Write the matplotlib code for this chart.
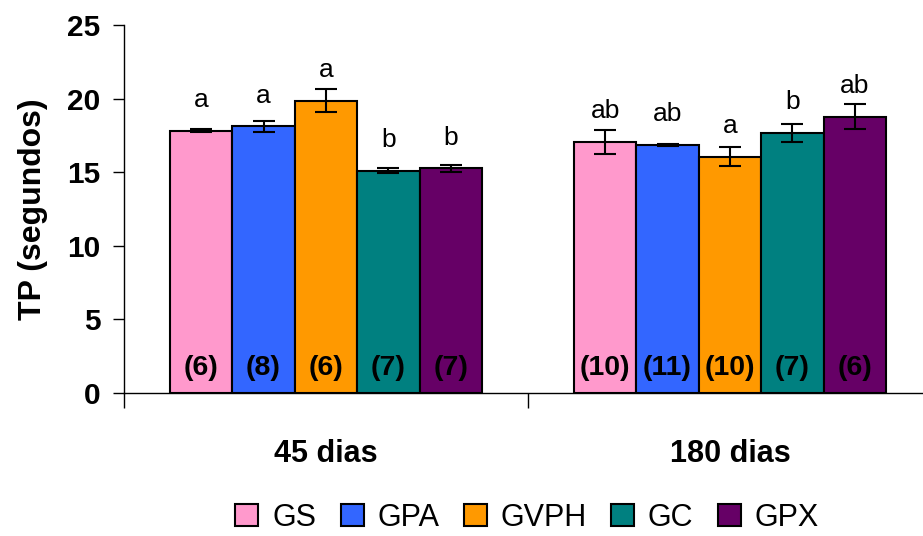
import matplotlib.pyplot as plt
import numpy as np

plt.rcParams['font.family'] = ['Liberation Sans', 'DejaVu Sans']

periods = ["45 dias", "180 dias"]
groups = ["GS", "GPA", "GVPH", "GC", "GPX"]
colors = ["#FF99CC", "#3366FF", "#FF9900", "#008080", "#660066"]

# mean TP per group, rows = groups, cols = periods
means = [[17.8, 17.05],
         [18.1, 16.85],
         [19.85, 16.05],
         [15.1, 17.65],
         [15.25, 18.75]]
errors = [[0.1, 0.8],
          [0.4, 0.07],
          [0.8, 0.63],
          [0.17, 0.63],
          [0.22, 0.85]]
letters = [["a", "ab"],
           ["a", "ab"],
           ["a", "a"],
           ["b", "b"],
           ["b", "ab"]]
counts = [["(6)", "(10)"],
          ["(8)", "(11)"],
          ["(6)", "(10)"],
          ["(7)", "(7)"],
          ["(7)", "(6)"]]

fig = plt.figure(figsize=(9.23, 5.36), dpi=100)
ax = fig.add_axes([0.1343, 0.2674, 0.8754, 0.686])

x = np.arange(len(periods))
w = 0.1545
for i, g in enumerate(groups):
    xs = x + (i - 2) * w
    ax.bar(xs, means[i], width=w, color=colors[i], edgecolor="black",
           linewidth=1.5, label=g, zorder=2)
    ax.errorbar(xs, means[i], yerr=errors[i], fmt="none", ecolor="black",
                elinewidth=1.5, capsize=8, capthick=1.5, zorder=3)
    for j in range(len(periods)):
        ax.annotate(letters[i][j], (xs[j], means[i][j]), xytext=(0, 17),
                    textcoords="offset points", ha="center", va="baseline",
                    fontsize=19)
        ax.text(xs[j], 1.7, counts[i][j], ha="center", va="center",
                fontsize=20.5, fontweight="bold", zorder=4)

ax.set_ylim(0, 25)
ax.set_xlim(-0.5, 1.5)
ax.set_yticks(range(0, 26, 5))
ax.set_ylabel("TP (segundos)", fontsize=23, fontweight="bold", labelpad=14)
ax.set_xticks(x)
ax.set_xticklabels(periods, fontsize=22, fontweight="bold")
ax.tick_params(axis="x", which="major", length=0, pad=33)
ax.set_xticks([-0.5, 0.5, 1.5], minor=True)
ax.tick_params(axis="x", which="minor", length=11, width=1)
ax.tick_params(axis="y", length=8, width=1, labelsize=21.5, pad=9)
for lbl in ax.get_yticklabels():
    lbl.set_fontweight("bold")

for s in ["top", "right"]:
    ax.spines[s].set_visible(False)
for s in ["left", "bottom"]:
    ax.spines[s].set_linewidth(1)

fig.legend(loc="center", bbox_to_anchor=(0.571, 0.034), ncol=5, frameon=False,
           fontsize=22, handlelength=0.75, handleheight=0.75,
           handletextpad=0.45, columnspacing=0.8, borderpad=0)

fig.savefig("out.png", dpi=100)
